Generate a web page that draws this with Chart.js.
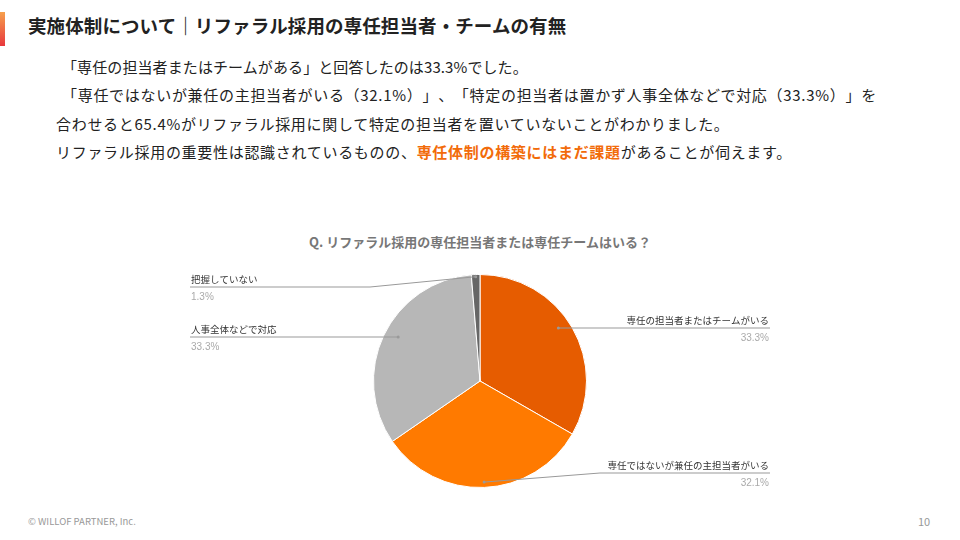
<!DOCTYPE html>
<html><head><meta charset="utf-8">
<script src="https://cdn.jsdelivr.net/npm/chart.js@4"></script>
<style>
body{margin:0;width:960px;height:540px;background:#fff;font-family:"Noto Sans CJK JP","Noto Sans",sans-serif;position:relative;overflow:hidden;text-spacing-trim:space-all;font-feature-settings:"chws" 0,"halt" 0}
#bar{position:absolute;left:0;top:12px;width:5px;height:34px;background:linear-gradient(#f6a04d,#e8383d)}
#t{position:absolute;left:28px;top:12px;font-size:18.5px;font-weight:bold;color:#222;letter-spacing:0.1px}
.p{position:absolute;font-size:15px;color:#222;white-space:nowrap;letter-spacing:0.7px}
#ct{position:absolute;left:0;width:960px;text-align:center;top:232px;font-size:13px;font-weight:bold;color:#777}
#f1{position:absolute;left:28px;top:514px;font-size:9.5px;color:#999}
#f2{position:absolute;left:918px;top:513px;font-size:11px;color:#999}
canvas{position:absolute;left:0;top:0}
</style></head><body>
<div id="bar"></div>
<div id="t">実施体制について｜リファラル採用の専任担当者・チームの有無</div>
<div class="p" style="left:62px;top:56px;letter-spacing:0.1px">「専任の担当者またはチームがある」と回答したのは33.3%でした。</div>
<div class="p" style="left:62px;top:84px">「専任ではないが兼任の主担当者がいる（32.1%）」、「特定の担当者は置かず人事全体などで対応（33.3%）」を</div>
<div class="p" style="left:56px;top:113px">合わせると65.4%がリファラル採用に関して特定の担当者を置いていないことがわかりました。</div>
<div class="p" style="left:56px;top:141px">リファラル採用の重要性は認識されているものの、<b style="color:#f26b0a">専任体制の構築にはまだ課題</b>があることが伺えます。</div>
<div id="ct">Q. リファラル採用の専任担当者または専任チームはいる？</div>
<div id="f1">© WILLOF PARTNER, Inc.</div>
<div id="f2">10</div>
<canvas id="c" width="960" height="540"></canvas>
<script>
const categories=["専任の担当者またはチームがいる","専任ではないが兼任の主担当者がいる","人事全体などで対応","把握していない"];
const values=[33.3,32.1,33.3,1.3];
const colors=["#e65c00","#ff7a00","#b7b7b7","#666666"];
const labelSide=[1,1,-1,-1];
const labelY=[328,473,337,287];
const pointR=[0.85,0.95,0.85,0.98];
const labels={id:'lbl',afterDatasetsDraw(ch){
 const ctx=ch.ctx;const meta=ch.getDatasetMeta(0);
 meta.data.forEach((a,i)=>{
  const mid=(a.startAngle+a.endAngle)/2;const r=a.outerRadius*pointR[i];
  const px=a.x+Math.cos(mid)*r,y=labelY[i];
  const py=(i==1||i==3)?a.y+Math.sin(mid)*r:y;
  const side=labelSide[i];const ex=side>0?770:190;
  ctx.save();ctx.strokeStyle='#999';ctx.lineWidth=1;ctx.beginPath();ctx.moveTo(px,py);
  if(i==3){ctx.lineTo(370,y);}
  if(i==1){ctx.lineTo(600,y);}
  ctx.lineTo(ex,y);ctx.stroke();
  ctx.fillStyle='#999';ctx.beginPath();ctx.arc(px,py,1.5,0,7);ctx.fill();
  ctx.textAlign=side>0?'right':'left';ctx.font='9.5px "Noto Sans CJK JP"';ctx.fillStyle='#333';
  const tx=side>0?769:191;
  ctx.fillText(categories[i],tx,y-4);
  ctx.fillStyle='#aaa';ctx.font='10px Arial, "Liberation Sans"';ctx.fillText(values[i].toFixed(1)+'%',tx,y+13);
  ctx.restore();
 });
}};
new Chart(document.getElementById('c'),{type:'pie',
 data:{labels:categories,datasets:[{data:values,backgroundColor:colors,borderColor:'#fff',borderWidth:1}]},
 options:{responsive:false,animation:false,layout:{padding:{top:274,bottom:52,left:100,right:100}},
  plugins:{legend:{display:false},tooltip:{enabled:false}}},
 plugins:[labels]});
</script>
</body></html>
